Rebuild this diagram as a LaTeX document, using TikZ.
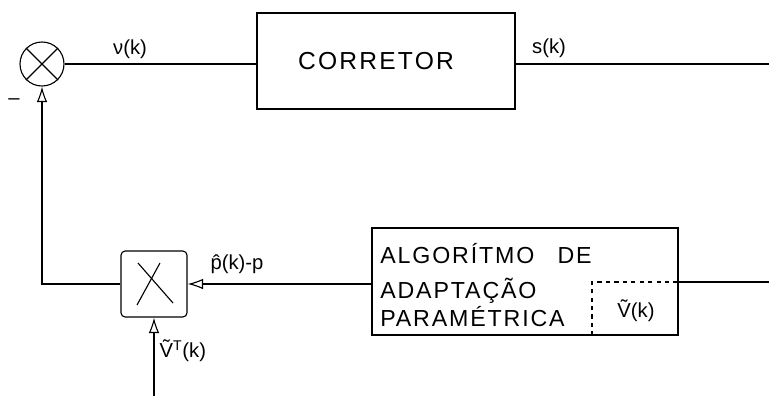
\documentclass[tikz,border=0pt]{standalone}
\usepackage{fontspec}
\setmainfont{Liberation Sans}
\usetikzlibrary{arrows.meta, calc}

\tikzset{
  bloco/.style={draw, thick, minimum width=#1, inner sep=0pt},
  seta/.style={-{Latex[open, length=11pt, width=7.5pt]}, thick},
  rotulo/.style={font=\Large, inner sep=1pt},
  caixa/.style={font=\fontsize{16.5}{19}\selectfont\addfontfeature{LetterSpace=8}, align=left, inner sep=0pt}
}

\begin{document}
\begin{tikzpicture}[x=0.025cm, y=-0.025cm]
  \useasboundingbox (0,0) rectangle (769,396);

  % somador e corretor
  \node[draw, thick, circle, minimum size=1.1cm, inner sep=0pt] (soma) at (42,64) {};
  \draw[thick] (soma.north west) -- (soma.south east);
  \draw[thick] (soma.north east) -- (soma.south west);
  \node[bloco=6.45cm, minimum height=2.4cm] (corretor) at (386,61) {};
  \node[caixa, font=\fontsize{17.5}{20}\selectfont\addfontfeature{LetterSpace=9}] (tcorretor) at (376,61) {CORRETOR};
  \coordinate (saida) at (769,64);
  \draw[thick] (soma.east) -- (soma.east -| corretor.west);
  \draw[thick] (corretor.east |- saida) -- (saida);
  \node[rotulo] (nu) at (130,49) {ν(k)};
  \node[rotulo] (sk) at (549,48) {s(k)};
  \node[font=\Large] (menos) at (14,102) {--};

  % multiplicador
  \node[bloco=1.65cm, minimum height=1.65cm, rounded corners=3pt] (mult) at (154,284) {};
  \draw[thick] ($(mult.center)+(-16,-21)$) -- ($(mult.center)+(19,19)$);
  \draw[thick] ($(mult.center)+(6,-21)$) -- ($(mult.center)+(-17,21)$);
  \draw[seta] (mult.west) -| (soma.south);

  % algoritmo de adaptacao
  \node[bloco=7.65cm, minimum height=2.675cm] (algo) at (525,281.5) {};
  \node[caixa, anchor=north west] (talgo) at (380,243) {ALGORÍTMO\quad DE\\[6pt]ADAPTAÇÃO\\[1pt]PARAMÉTRICA};
  \coordinate (vcanto) at (592,282);
  \draw[thick, dashed] (vcanto |- algo.south) -- (vcanto) -- (vcanto -| algo.east);
  \node[rotulo] (vk) at (636,311) {\~V(k)};
  \coordinate (saida2) at (769,282);
  \draw[thick] (algo.east |- saida2) -- (saida2);
  \draw[seta] (algo.west |- mult.east) -- (mult.east);
  \node[rotulo] (pk) at (237,264) {\^p(k)-p};

  % entrada inferior
  \coordinate (entrada) at (154,396);
  \draw[seta] (entrada) -- (mult.south);
  \node[rotulo, anchor=west] (vt) at (158,351) {\~V\textsuperscript{T}(k)};
\end{tikzpicture}
\end{document}
